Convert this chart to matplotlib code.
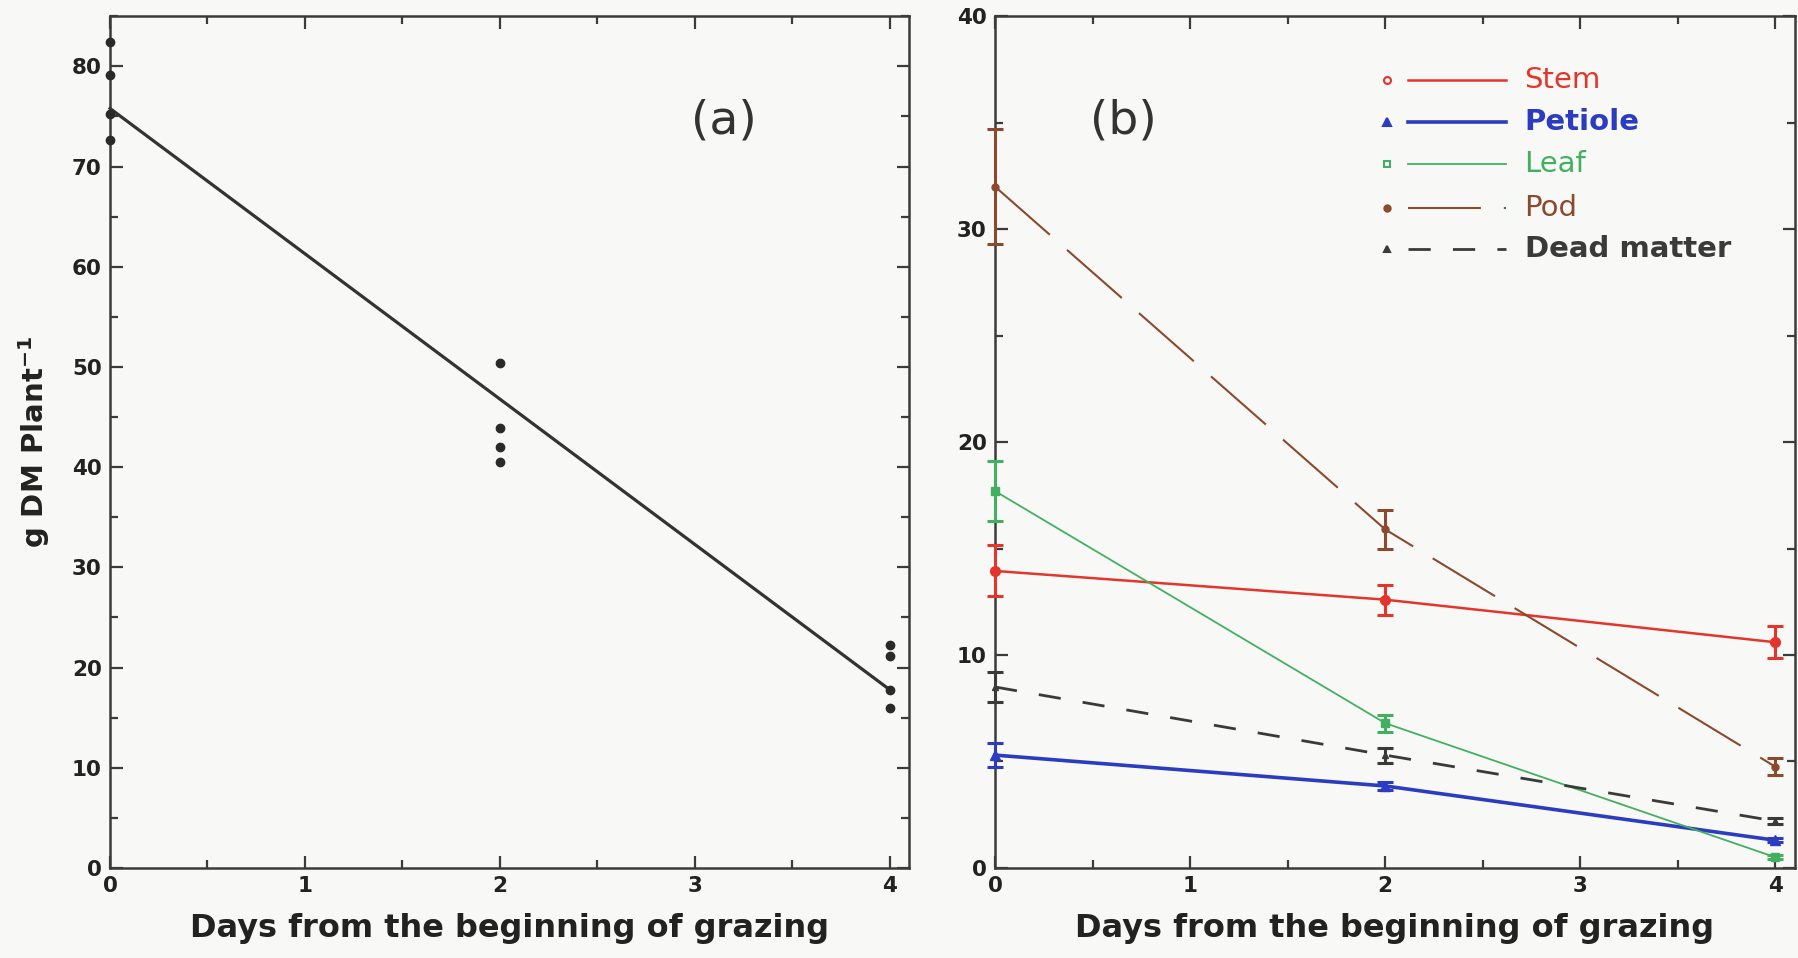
import numpy as np
import matplotlib
matplotlib.use('Agg')
import matplotlib.pyplot as plt
from matplotlib.ticker import MultipleLocator

# (a) total dry matter per plant, four replicates per sampling day
dias_a = [0, 0, 0, 0, 2, 2, 2, 2, 4, 4, 4, 4]
ms_a = [82.4, 79.1, 75.2, 72.7, 50.4, 43.9, 42.0, 40.5, 22.3, 21.2, 17.8, 16.0]
dias_recta = [0, 4]
ms_recta = [75.8, 17.8]

# (b) components, mean and error
dies = [0, 2, 4]
components = ['Stem', 'Petiole', 'Leaf', 'Pod', 'Dead matter']
mitjanes = {
    'Stem': [13.95, 12.6, 10.6],
    'Petiole': [5.3, 3.85, 1.3],
    'Leaf': [17.7, 6.8, 0.5],
    'Pod': [32.0, 15.9, 4.75],
    'Dead matter': [8.5, 5.3, 2.2],
}
errors = {
    'Stem': [1.2, 0.7, 0.75],
    'Petiole': [0.55, 0.2, 0.1],
    'Leaf': [1.4, 0.4, 0.1],
    'Pod': [2.7, 0.9, 0.4],
    'Dead matter': [0.7, 0.35, 0.15],
}

estils = {
    'Stem': dict(color='#e4352c', lw=1.8, ls='-', marker='o', mfc='none', ms=5, mdata=7, weight='normal'),
    'Petiole': dict(color='#2b3cc0', lw=2.6, ls='-', marker='^', mfc='#2b3cc0', ms=6, mdata=7, weight='bold'),
    'Leaf': dict(color='#43b061', lw=1.3, ls='-', marker='s', mfc='none', ms=4.5, mdata=6, weight='normal'),
    'Pod': dict(color='#8a4a2d', lw=1.5, ls=(0, (35, 11)), marker='o', mfc='#8a4a2d', ms=4.5, mdata=5, weight='normal'),
    'Dead matter': dict(color='#3a3a3a', lw=2.0, ls=(0, (8, 8)), marker='^', mfc='#3a3a3a', ms=5, mdata=5, weight='bold'),
}

fons = '#f8f8f6'
tinta = '#3b3b3b'

plt.rcParams['font.family'] = ['DejaVu Sans']

fig = plt.figure(figsize=(17.98, 9.58), dpi=100, facecolor=fons)
ax1 = fig.add_axes([0.0612, 0.094, 0.4444, 0.889], facecolor=fons)
ax2 = fig.add_axes([0.5534, 0.094, 0.4449, 0.889], facecolor=fons)


def estil_eixos(ax, ymax, ymaj, ymin):
    ax.set_xlim(0, 4.1)
    ax.set_ylim(0, ymax)
    ax.xaxis.set_major_locator(MultipleLocator(1))
    ax.xaxis.set_minor_locator(MultipleLocator(0.5))
    ax.yaxis.set_major_locator(MultipleLocator(ymaj))
    ax.yaxis.set_minor_locator(MultipleLocator(ymin))
    ax.tick_params(which='both', direction='in', top=True, right=True,
                   color=tinta, width=1.6, labelcolor='#222222')
    ax.tick_params(which='major', length=9, labelsize=15.5, pad=6)
    ax.tick_params(which='minor', length=6)
    for lab in ax.get_xticklabels() + ax.get_yticklabels():
        lab.set_fontweight('bold')
    for s in ax.spines.values():
        s.set_color(tinta)
        s.set_linewidth(1.8)
    ax.set_xlabel('Days from the beginning of grazing', fontsize=23,
                  fontweight='bold', color='#222222', labelpad=12)


# ---- (a)
ax1.plot(dias_recta, ms_recta, color='#333333', lw=2.3, clip_on=False)
ax1.plot(dias_a, ms_a, 'o', color='#2a2a2a', ms=6, clip_on=False, zorder=5)
estil_eixos(ax1, 85, 10, 5)
ax1.set_ylabel('g DM Plant$^{\\mathbf{-1}}$', fontsize=21, fontweight='bold',
               color='#222222', labelpad=14)
ax1.text(3.15, 74.5, '(a)', fontsize=34, ha='center', va='center', color='#333333')

# ---- (b)
for nom in components:
    e = estils[nom]
    ax2.errorbar(dies, mitjanes[nom], yerr=errors[nom], color=e['color'],
                 lw=e['lw'], ls=e['ls'], marker=e['marker'], mfc=e['color'],
                 mec=e['color'], ms=e['mdata'], capsize=6, capthick=2.2, elinewidth=2.2,
                 clip_on=False, zorder=4)
estil_eixos(ax2, 40, 10, 5)
ax2.text(0.66, 35.1, '(b)', fontsize=34, ha='center', va='center', color='#333333')

# llegenda dibuixada a mà
files_y = [0.925, 0.876, 0.826, 0.775, 0.727]
for nom, yy in zip(components, files_y):
    e = estils[nom]
    ax2.plot([0.49], [yy], transform=ax2.transAxes, marker=e['marker'],
             color=e['color'], mfc=e['mfc'], mec=e['color'], ms=e['ms'], mew=1.5, ls='none')
    ax2.plot([0.516, 0.639], [yy, yy], transform=ax2.transAxes,
             color=e['color'], lw=e['lw'], ls=e['ls'])
    ax2.text(0.662, yy, nom, transform=ax2.transAxes, color=e['color'],
             fontsize=21, fontweight=e['weight'], va='center', ha='left')

fig.savefig('out.png', dpi=100, facecolor=fons)
